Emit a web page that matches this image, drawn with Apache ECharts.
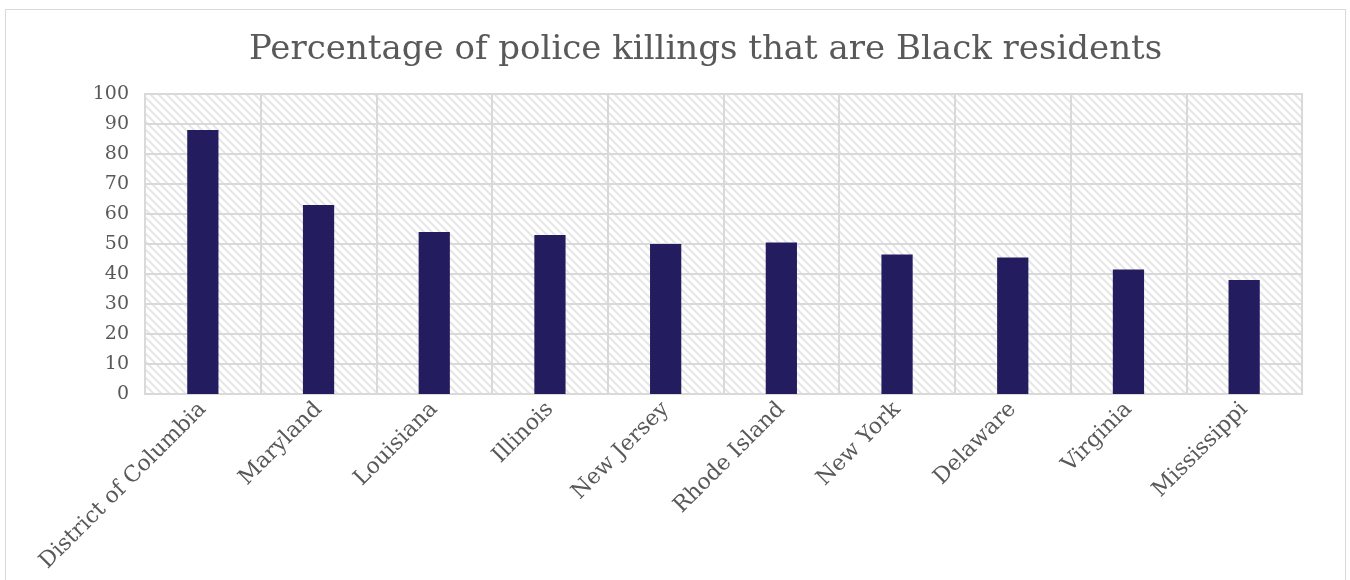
<!DOCTYPE html>
<html>
<head>
<meta charset="utf-8">
<script src="https://cdn.jsdelivr.net/npm/echarts@6/dist/echarts.min.js"></script>
<style>
  html, body { margin: 0; padding: 0; background: #fff; }
  #frame { position: absolute; left: 5px; top: 9px; width: 1339px; height: 600px; border: 1px solid #d9d9d9; }
  #chart { position: absolute; left: 0; top: 0; width: 1350px; height: 580px; }
</style>
</head>
<body>
<div id="frame"></div>
<div id="chart"></div>
<script>
// 数据
const states = ["District of Columbia", "Maryland", "Louisiana", "Illinois", "New Jersey",
  "Rhode Island", "New York", "Delaware", "Virginia", "Mississippi"];
const blackShare = [88, 63, 54, 53, 50, 50.5, 46.5, 45.5, 41.5, 38];
const yTicks = { min: 0, max: 100, interval: 10 };

// 斜线底纹
function makeHatch() {
  const c = document.createElement("canvas");
  c.width = 8; c.height = 8;
  const ctx = c.getContext("2d");
  ctx.fillStyle = "#ffffff";
  ctx.fillRect(0, 0, 8, 8);
  ctx.strokeStyle = "#e6e6e6";
  ctx.lineWidth = 2;
  ctx.beginPath();
  ctx.moveTo(-2, -2); ctx.lineTo(10, 10);
  ctx.moveTo(-2, 6); ctx.lineTo(2, 10);
  ctx.moveTo(6, -2); ctx.lineTo(10, 2);
  ctx.stroke();
  return c;
}

const font = "DejaVu Serif";
const textColor = "#595959";
const chart = echarts.init(document.getElementById("chart"));

chart.setOption({
  animation: false,
  title: {
    text: "Percentage of police killings that are Black residents",
    left: 244,
    top: 28,
    textStyle: { fontFamily: font, fontSize: 34, fontWeight: "normal", color: textColor },
  },
  grid: {
    left: 145, right: 48, top: 94, bottom: 186,
    show: true,
    backgroundColor: { image: makeHatch(), repeat: "repeat" },
    borderColor: "#d9d9d9",
    borderWidth: 2,
  },
  xAxis: {
    type: "category",
    data: states,
    axisTick: { show: false },
    axisLine: { lineStyle: { color: "#d9d9d9", width: 2 } },
    splitLine: { show: true, lineStyle: { color: "#d9d9d9", width: 2 } },
    axisLabel: {
      interval: 0, rotate: 45, margin: 12,
      fontFamily: font, fontSize: 22, color: textColor,
    },
  },
  yAxis: {
    type: "value",
    min: yTicks.min, max: yTicks.max, interval: yTicks.interval,
    axisLine: { show: false },
    axisTick: { show: false },
    splitLine: { lineStyle: { color: "#d9d9d9", width: 2 } },
    axisLabel: { margin: 16, fontFamily: font, fontSize: 19, color: textColor },
  },
  series: [{
    type: "bar",
    data: blackShare,
    barWidth: "27%",
    itemStyle: { color: "#231c5f" },
  }],
});
</script>
</body>
</html>
